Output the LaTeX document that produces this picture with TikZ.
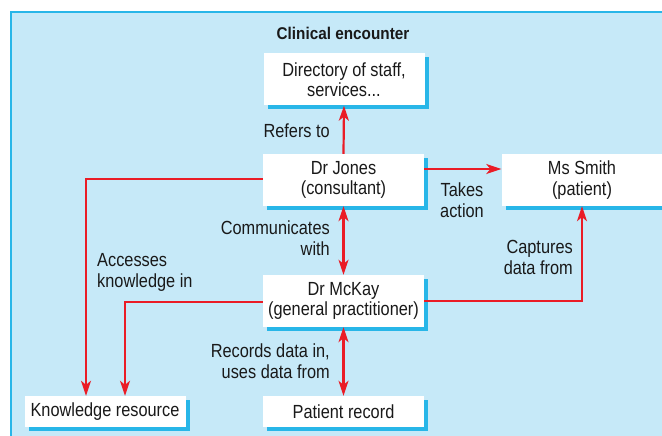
\documentclass[tikz,border=0pt]{standalone}
\usepackage{fontspec}
\setmainfont{Liberation Sans}[FakeStretch=0.86]
\newfontfamily\titlefont{Liberation Sans}[FakeStretch=0.9]
\usetikzlibrary{arrows.meta,shadows}
\definecolor{bgblue}{RGB}{198,233,248}
\definecolor{edgeblue}{RGB}{40,182,232}
\definecolor{arrred}{RGB}{234,28,38}
\definecolor{txt}{RGB}{25,25,25}
\begin{document}
\begin{tikzpicture}[x=1pt,y=-1pt,
  every node/.style={text=txt},
  box/.style={fill=white, minimum width=161pt, minimum height=52pt, inner sep=0pt,
    align=center, font=\fontsize{19}{20.5}\selectfont,
    drop shadow={shadow xshift=4pt, shadow yshift=-4pt, fill=edgeblue, opacity=1}},
  lowbox/.style={box, minimum height=31pt},
  lbl/.style={inner sep=0pt, font=\fontsize{19}{21}\selectfont},
  tip/.tip={Stealth[length=15pt,width=10pt,inset=4pt]},
  arr/.style={draw=arrred, line width=2.2pt, -tip},
  darr/.style={draw=arrred, line width=2.2pt, tip-tip}
]
\useasboundingbox (0,0) rectangle (662,436);
\fill[bgblue] (10,12) rectangle (670,440);
\draw[edgeblue, line width=2pt] (11,440) -- (11,12) -- (670,12);

\node[inner sep=0pt, font=\titlefont\bfseries\fontsize{17}{20}\selectfont] (title) at (343,33) {Clinical encounter};

\node[box] (dir) at (344,79.5) {Directory of staff,\\services...};
\node[box] (jones) at (343.5,180) {Dr Jones\\(consultant)};
\node[box] (smith) at (582,180) {Ms Smith\\(patient)};
\node[box] (mckay) at (343.5,301) {Dr McKay\\(general practitioner)};
\node[lowbox] (know) at (105,411.5) {Knowledge resource};
\node[lowbox] (record) at (343.5,411.5) {Patient record};

\coordinate (jw) at ([yshift=1pt]jones.west);
\coordinate (je) at ([yshift=11pt]jones.east);
\coordinate (mw) at ([yshift=-1pt]mckay.west);
\coordinate (me) at (mckay.east);
\coordinate (kn1) at ([xshift=-19pt]know.north);
\coordinate (kn2) at ([xshift=20pt]know.north);

\draw[arr] (jones.north) -- (dir.south);
\draw[arr] (je) -- (je -| smith.west);
\draw[arr] (jw) -| (kn1);
\draw[darr] (jones.south) -- (mckay.north);
\draw[arr] (mw) -| (kn2);
\draw[arr] (me) -| (smith.south);
\draw[darr] (mckay.south) -- (record.north);

\node[lbl, anchor=east] (l1) at (330,131) {Refers to};
\node[lbl, align=center] (l2) at (462,200) {Takes\\action};
\node[lbl, align=right, anchor=east] (l3) at (330,238) {Communicates\\with};
\node[lbl, align=left, anchor=west] (l4) at (97,272) {Accesses\\knowledge in};
\node[lbl, align=right, anchor=east] (l5) at (573,257) {Captures\\data from};
\node[lbl, align=right, anchor=east] (l6) at (330,361) {Records data in,\\uses data from};
\end{tikzpicture}
\end{document}
